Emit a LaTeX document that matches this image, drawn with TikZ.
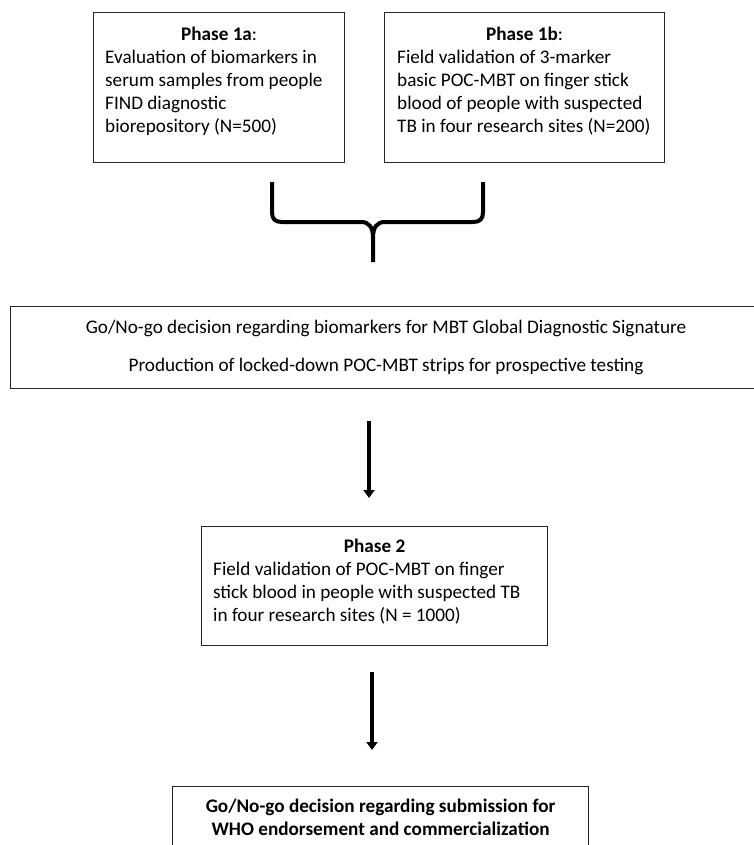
\documentclass[tikz,border=0pt]{standalone}
\usepackage{fontspec}
\setmainfont{Carlito}
\usetikzlibrary{arrows.meta}
\begin{document}
\begin{tikzpicture}[x=1pt,y=-1pt,
  box/.style={draw=black!85,line width=1.2pt,inner sep=0pt,anchor=north west},
  txt/.style={font=\fontsize{19.2}{23.4}\selectfont,inner sep=0pt,anchor=base west},
  ctxt/.style={font=\fontsize{19.2}{23.4}\selectfont,inner sep=0pt,anchor=base},
  bracepath/.style={line width=4pt,line cap=butt},
  flow/.style={line width=4pt,-{Triangle[width=11pt,length=8pt]}}]
\useasboundingbox (0,0) rectangle (753,845);
% Phase 1a
\node[box,minimum width=251pt,minimum height=150pt] (p1a) at (93,12) {};
\node[ctxt] (p1at) at (p1a.center |- 0,41) {\textbf{Phase 1a}:};
\node[txt] (p1a1) at (105,64) {Evaluation of biomarkers in};
\node[txt] (p1a2) at (105,87) {serum samples from people};
\node[txt] (p1a3) at (105,110) {FIND diagnostic};
\node[txt] (p1a4) at (105,133) {biorepository (N=500)};
% Phase 1b
\node[box,minimum width=280pt,minimum height=150pt] (p1b) at (384,12) {};
\node[ctxt] (p1bt) at (p1b.center |- 0,41) {\textbf{Phase 1b}:};
\node[txt] (p1b1) at (397,64) {Field validation of 3-marker};
\node[txt] (p1b2) at (397,87) {basic POC-MBT on finger stick};
\node[txt] (p1b3) at (397,110) {blood of people with suspected};
\node[txt] (p1b4) at (397,133) {TB in four research sites (N=200)};
% brace
\draw[bracepath] (272,182) -- (272,212) .. controls (272,219) and (275,222) .. (282,222) -- (361,222)
  .. controls (369,222) and (373,227) .. (373,238) -- (373,262);
\draw[bracepath] (483,182) -- (483,212) .. controls (483,219) and (480,222) .. (473,222) -- (385,222)
  .. controls (377,222) and (373,227) .. (373,238);
% Go/No-go box
\node[box,minimum width=760pt,minimum height=82pt] (go) at (10,306) {};
\node[ctxt] (go1) at (386,333) {Go/No-go decision regarding biomarkers for MBT Global Diagnostic Signature};
\node[ctxt] (go2) at (386,371) {Production of locked-down POC-MBT strips for prospective testing};
% arrow 1
\coordinate (a1s) at (369,421);
\coordinate (a1e) at (369,498);
\draw[flow] (a1s) -- (a1e);
% Phase 2
\node[box,minimum width=346pt,minimum height=119pt] (p2) at (201,526) {};
\node[ctxt] (p2t) at (p2.center |- 0,552) {\textbf{Phase 2}};
\node[txt] (p21) at (213,575) {Field validation of POC-MBT on finger};
\node[txt] (p22) at (213,598) {stick blood in people with suspected TB};
\node[txt] (p23) at (213,621) {in four research sites (N = 1000)};
% arrow 2
\coordinate (a2s) at (372,672);
\coordinate (a2e) at (372,750);
\draw[flow] (a2s) -- (a2e);
% final box
\node[box,minimum width=416pt,minimum height=80pt] (fin) at (172,786) {};
\node[ctxt] (fin1) at (fin.center |- 0,812) {\textbf{Go/No-go decision regarding submission for}};
\node[ctxt] (fin2) at (fin.center |- 0,835) {\textbf{WHO endorsement and commercialization}};
\end{tikzpicture}
\end{document}
